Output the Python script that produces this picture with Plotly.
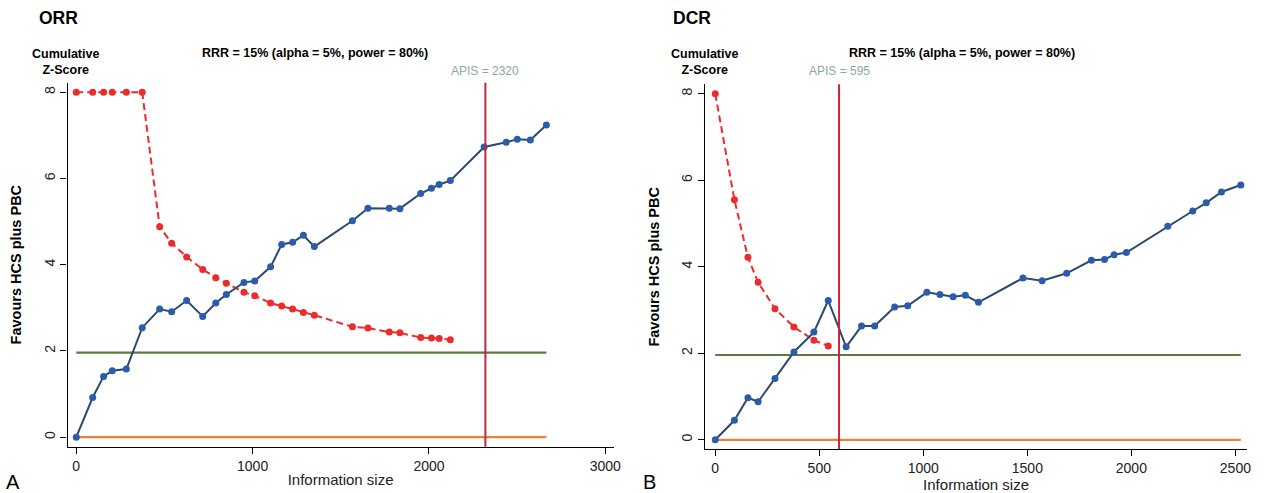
import plotly.graph_objects as go

# ---------------- data ----------------
orr_info = [0, 93, 155, 204, 284, 374, 473, 541, 626, 717, 791, 851, 951, 1012,
            1102, 1165, 1227, 1288, 1350, 1566, 1654, 1775, 1835, 1953, 2014,
            2058, 2121, 2313, 2438, 2501, 2575, 2666]
orr_z = [0.0, 0.92, 1.41, 1.54, 1.58, 2.54, 2.97, 2.91, 3.17, 2.80, 3.11, 3.31,
         3.59, 3.62, 3.95, 4.47, 4.52, 4.68, 4.42, 5.02, 5.31, 5.31, 5.30, 5.65,
         5.77, 5.86, 5.95, 6.73, 6.84, 6.91, 6.89, 7.24]
orr_bound = [8, 8, 8, 8, 8, 8, 4.88, 4.50, 4.18, 3.89, 3.70, 3.57, 3.36, 3.28,
             3.11, 3.04, 2.97, 2.89, 2.83, 2.56, 2.53, 2.44, 2.42, 2.31, 2.30,
             2.29, 2.26]

dcr_info = [0, 92, 157, 206, 287, 378, 474, 543, 629, 703, 766, 862, 925, 1017,
            1080, 1143, 1202, 1265, 1479, 1571, 1689, 1808, 1871, 1917, 1976,
            2175, 2295, 2360, 2433, 2526]
dcr_z = [0.0, 0.45, 0.97, 0.88, 1.42, 2.03, 2.49, 3.22, 2.15, 2.63, 2.63, 3.07,
         3.10, 3.41, 3.36, 3.31, 3.34, 3.18, 3.74, 3.68, 3.85, 4.15, 4.17, 4.28,
         4.33, 4.94, 5.29, 5.48, 5.73, 5.89]
dcr_bound = [8, 5.55, 4.22, 3.64, 3.03, 2.61, 2.30, 2.17]

apis = [2320, 595]
z_crit = 1.96
panel_titles = ["ORR", "DCR"]
panel_letters = ["A", "B"]
x_ticks = [[0, 1000, 2000, 3000], [0, 500, 1000, 1500, 2000, 2500]]
y_ticks = [0, 2, 4, 6, 8]

# ---------------- style ----------------
FONT = "Liberation Sans, Arial, sans-serif"
BLUE_LINE = "#2c4a6e"
BLUE_MARK = "#2a5cab"
RED = "#ee2b2b"
GREEN = "#5b7a3c"
ORANGE = "#e8843a"
VLINE = "#c0283e"
APIS_COL = "#8ea89d"

W, H = 1264, 493
dom = {
    "x": [[68 / W, 617 / W], [709 / W, 1254 / W]],
    "y": [[1 - 446.7 / H, 1 - 82.7 / H], [1 - 449.3 / H, 1 - 84.3 / H]],
}
xranges = [[-49, 3047], [-49, 2556]]
yrange = [-0.22, 8.22]

fig = go.Figure()

panels = [
    (orr_info, orr_z, orr_bound),
    (dcr_info, dcr_z, dcr_bound),
]

annotations = []
shapes = []
for i, (info, z, bound) in enumerate(panels):
    xa = "x" if i == 0 else "x2"
    ya = "y" if i == 0 else "y2"
    xmax = max(info)
    # zero line
    fig.add_trace(go.Scatter(x=[0, xmax], y=[0, 0], mode="lines",
                             line=dict(color=ORANGE, width=2.2),
                             xaxis=xa, yaxis=ya, showlegend=False, hoverinfo="skip"))
    # conventional boundary
    fig.add_trace(go.Scatter(x=[0, xmax], y=[z_crit, z_crit], mode="lines",
                             line=dict(color=GREEN, width=2.2),
                             xaxis=xa, yaxis=ya, showlegend=False, hoverinfo="skip"))
    # monitoring boundary
    fig.add_trace(go.Scatter(x=info[:len(bound)], y=bound, mode="lines+markers",
                             line=dict(color=RED, width=2, dash="7px,4px"),
                             marker=dict(color=RED, size=7),
                             xaxis=xa, yaxis=ya, showlegend=False))
    # cumulative z
    fig.add_trace(go.Scatter(x=info, y=z, mode="lines+markers",
                             line=dict(color=BLUE_LINE, width=2),
                             marker=dict(color=BLUE_MARK, size=7),
                             xaxis=xa, yaxis=ya, showlegend=False))
    # APIS vertical line
    shapes.append(dict(type="line", xref=xa, yref=f"{ya} domain",
                       x0=apis[i], x1=apis[i], y0=0, y1=1,
                       line=dict(color=VLINE, width=2)))
    annotations.append(dict(xref=xa, yref="paper", x=apis[i], y=1 - 71 / H,
                            text=f"APIS = {apis[i]}", showarrow=False,
                            font=dict(family=FONT, size=12, color=APIS_COL),
                            xanchor="center", yanchor="middle"))
    # panel title
    annotations.append(dict(xref="paper", yref="paper",
                            x=(37 if i == 0 else 675) / W, y=1 - 18 / H,
                            text=f"<b>{panel_titles[i]}</b>", showarrow=False,
                            font=dict(family=FONT, size=17.5, color="black"),
                            xanchor="left", yanchor="middle"))
    # cumulative z-score label
    annotations.append(dict(xref="paper", yref="paper",
                            x=(66 if i == 0 else 708) / W, y=1 - 62 / H,
                            text="<b>Cumulative<br>Z-Score</b>", showarrow=False,
                            font=dict(family=FONT, size=12.5, color="black"),
                            xanchor="center", yanchor="middle", align="center"))
    # RRR text
    annotations.append(dict(xref="paper", yref="paper",
                            x=(317 if i == 0 else 967) / W, y=1 - 53 / H,
                            text="<b>RRR = 15% (alpha = 5%, power = 80%)</b>",
                            showarrow=False,
                            font=dict(family=FONT, size=12.5, color="black"),
                            xanchor="center", yanchor="middle"))
    # panel letter
    annotations.append(dict(xref="paper", yref="paper",
                            x=(4 if i == 0 else 645) / W, y=1 - 482 / H,
                            text=panel_letters[i], showarrow=False,
                            font=dict(family=FONT, size=20, color="black"),
                            xanchor="left", yanchor="middle"))

axis_common = dict(showgrid=False, zeroline=False, showline=True,
                   linecolor="black", linewidth=1.3, ticks="outside",
                   ticklen=6, tickwidth=1.3, tickcolor="black",
                   tickfont=dict(family=FONT, size=14, color="#222"))

layout = dict(
    width=W, height=H,
    margin=dict(l=0, r=0, t=0, b=0),
    paper_bgcolor="white", plot_bgcolor="white",
    font=dict(family=FONT),
    showlegend=False,
    annotations=annotations,
    shapes=shapes,
)
for i in range(2):
    sfx = "" if i == 0 else "2"
    layout[f"xaxis{sfx}"] = dict(
        axis_common, domain=dom["x"][i], range=xranges[i],
        tickvals=x_ticks[i], anchor=f"y{sfx}",
        title=dict(text="Information size", standoff=1,
                   font=dict(family=FONT, size=15, color="#222")))
    layout[f"yaxis{sfx}"] = dict(
        axis_common, domain=dom["y"][i], range=yrange,
        tickvals=y_ticks, tickangle=-90, anchor=f"x{sfx}",
        title=dict(text="<b>Favours HCS plus PBC</b>", standoff=16,
                   font=dict(family=FONT, size=14.5, color="black")))

fig.update_layout(**layout)
fig.write_html("out.html")
